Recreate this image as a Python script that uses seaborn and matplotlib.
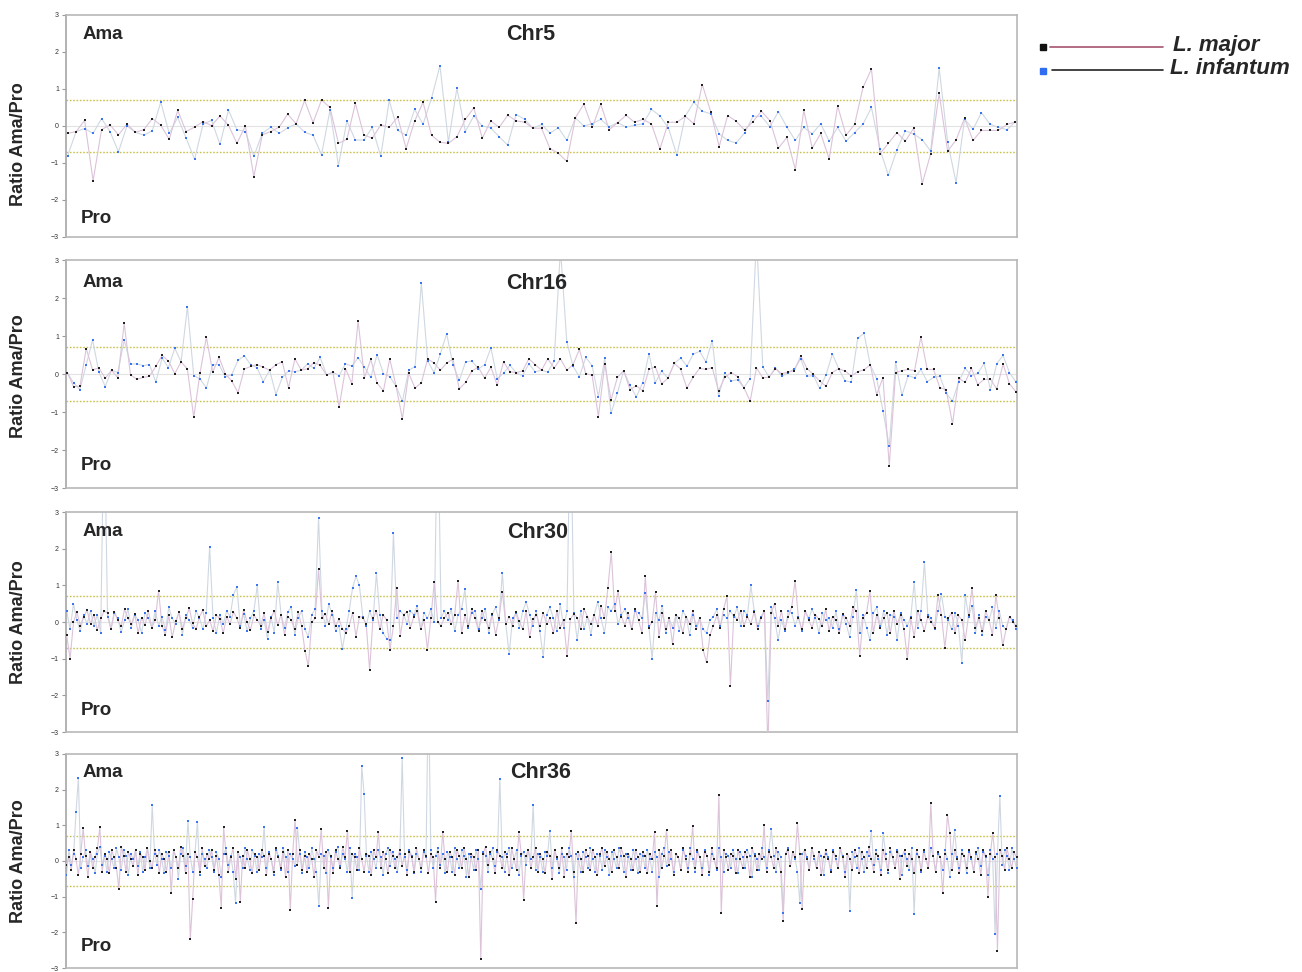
import numpy as np
import pandas as pd
import seaborn as sns
import matplotlib.pyplot as plt
from matplotlib.lines import Line2D

# ratio Ama/Pro per probe (values > 3 run off the top)
chr5_major = [-.2, -.15, .15, -1.48, -.1, .03, -.24, .05, -.17, -.1, .2, .02, -.36, .42, -.15, -.03, .12, .01, .27, .02,
              -.47, 0, -1.37, -.24, -.15, -.03, .32, .06, .69, .09, .7, .5, -.47, -.36, .61, -.24, -.33, .03, -.04, .24,
              -.61, .13, .64, -.25, -.44, -.47, -.29, .18, .49, -.33, .14, -.04, .29, .14, .1, -.06, -.06, -.61, -.74, -.96,
              .22, .59, -.04, .59, -.1, .09, .29, .1, .18, .05, -.62, .1, .1, .26, .06, 1.12, .39, -.56, .28, .13,
              -.11, .12, .4, .14, -.6, -.31, -1.18, .42, -.6, -.2, -.89, .54, -.25, .04, 1.04, 1.54, -.75, -.47, -.18, -.41,
              -.06, -1.56, -.75, .88, -.68, -.38, .21, -.39, -.12, -.12, -.12, .04, .11]
chr5_infantum = [-.8, -.15, -.07, -.2, .2, -.15, -.7, 0, -.17, -.25, -.13, .65, -.2, .23, -.33, -.9, .05, .15, -.5, .43,
                 -.1, -.15, -.82, -.2, -.03, -.2, -.05, .06, -.17, -.25, -.78, .43, -1.07, .13, -.38, -.38, -.04, -.82, .69, -.12,
                 -.25, .45, .05, .75, 1.63, -.44, 1.02, -.15, .27, 0, -.05, -.29, -.52, .31, .18, -.06, .04, -.19, -.05, -.39,
                 .22, 0, .06, .18, -.02, .09, -.03, .02, .06, .45, .27, -.05, -.79, .27, .64, .4, .33, -.21, -.39, -.46,
                 -.19, .26, .26, -.02, .39, -.03, -.39, -.04, -.21, .06, -.41, -.04, -.41, -.18, .05, .5, -.63, -1.33, -.65, -.13,
                 -.22, -.37, -.68, 1.56, -.43, -1.53, .19, -.09, .36, .05, -.04, -.1, .11]

chr16_major = [.04, -.33, -.32, .67, .11, .16, -.11, .1, -.1, 1.33, -.02, -.14, -.09, -.06, .2, .49, .34, .01, .32, .13,
               -1.14, .03, .97, .05, .44, 0, -.18, -.49, .13, .2, .25, .18, .1, .25, .32, -.36, .4, .1, .14, .3,
               .23, -.03, .05, -.87, .14, -.25, 1.39, -.1, .39, -.24, -.44, .4, -.32, -1.18, .02, -.37, -.23, .4, .29, .1,
               .29, .39, -.39, -.22, .08, .18, -.11, .18, -.29, .32, .06, .04, .08, .4, .25,
               .1, .4, .16, .4, .1, .25, .65, .01, -.03, -1.12, .26, -.68, -.09, .09, -.41, -.31, -.44, .12, .19, -.26,
               -.11, .28, .13, -.37, -.08, .15, .12, .17, -.44, -.09, .04, -.07, -.36, -.71, .16, -.1, -.08, .14, .01, .05,
               .09, .48, .14, -.01, -.19, -.32, .04, .14, .08, -.05, .06, .11, .24, -.54, -.1, -2.41, .04, .09, .12, .09,
               .98, .12, .12, -.36, -.41, -1.31, -.11, -.22, .15, -.28, -.14, -.14, -.39, .26, -.25, -.46]
chr16_infantum = [.04, -.23, -.41, .25, .9, .05, -.33, .1, .04, .89, .26, .27, .22, .25, -.21, .42, .17, .68, .32, 1.77,
                  -.04, -.13, -.37, .25, .25, -.08, -.02, .36, .48, .25, .17, -.2, .1, -.54, -.09, .08, .06, .1, .27, .15,
                  .44, -.02, .05, -.04, .27, .21, .43, .18, -.09, .51, .01, -.07, -.32, -.72, .1, .19, 2.39, .34, .04, .53,
                  1.06, .25, -.17, .32, .34, .14, .24, .69, -.12, .02, .23, .03, -.04, .27, .06,
                  .1, .05, .35, 3.3, .85, .2, -.07, .44, .22, -.6, .42, -1.03, -.5, .09, -.3, -.6, -.23, .54, -.23, .08,
                  -.11, .28, .42, .21, .52, .6, .32, .88, -.58, .02, -.18, -.15, -.36, -.12, 3.6, .19, -.08, .17, -.06, .04,
                  .14, .4, -.06, -.04, -.38, -.02, .53, .14, -.18, -.21, .94, 1.07, .24, -.12, -.96, -1.9, .32, -.56, -.04, -.1,
                  .12, -.2, -.09, -.06, -.51, -.71, -.2, .15, -.04, .02, .28, -.41, .27, .49, .04, -.2]

chr30_major = [-.36, -1.0, .0, .28, -.1, .15, .32, -.05, .2, -.22, .1, .3, .25, -.2, .28, .05, -.12, .35, .1, -.05,
               .22, -.3, .12, -.08, .3, -.15, .05, .85, -.1, -.35, .18, -.42, .02, .26, -.18, .1, .38, -.04, -.2, .14,
               .32, -.12, .05, -.25, .2, .08, -.3, .15, -.05, .28, .1, -.15, .34, .0, -.22, .18, .06, -.1, .24, -.28,
               .12, .3, -.08, .2, -.35, .15, .05, -.2, .28, -.1, -.78, -1.21, .0, .1, 1.45, .12, .22, -.05, .3, -.12,
               .08, -.18, -.3, -.1, .25, -.4, .15, .12, -.05, -1.31, .1, .3, -.2, .2, .05, -.75, -.1, .94, -.38, .2,
               .28, -.15, .15, .3, -.2, .05, -.75, .1, 1.1, .0, -.1, .12, .25, -.05, .2, 1.13, -.3, .18, -.12, .35,
               .1, -.25, .3, .05, -.15, .22, -.35, .1, .82, -.05, .15, -.1, .28, .02, -.2, .3, -.42, .08, .2, -.12,
               .25, -.05, .1, -.3, .3, -.15, .05, -.93, .08, .22, .12, -.2, .35, .15, -.05, .2, -.1, .45, .1, .92,
               1.92, .3, .85, .15, -.1, .25, -.2, .35, .05, -.3, 1.25, -.15, .0, .81, -.4, .25, -.2, .1, -.6, .2,
               .1, -.3, .15, -.05, .3, -.2, .12, -.77, -1.1, -.35, -.1, .18, -.15, .35, .71, -1.74, .2, .05, .3, -.1,
               .15, -.05, .28, -.2, .1, .3, -3.5, .25, .5, -.1, .3, -.2, .15, .4, 1.12, .1, -.2, .3, .05, -.15,
               .2, .08, -.1, .35, -.25, .15, .05, -.3, .22, .12, -.1, .4, .3, -.92, .12, .25, .85, -.3, .2, -.15,
               .1, .25, -.3, .3, -.05, .2, -.2, -1.02, .1, -.4, .3, .05, -.25, .15, .0, -.15, .74, .2, -.7, .1,
               .25, -.3, .18, .05, -.5, .2, .93, -.15, .1, -.25, .3, .05, -.35, .73, .1, -.64, -.2, .15, .0, -.1]
chr30_infantum = [.3, -.2, .5, .05, -.25, .18, -.05, .3, -.1, .2, -.3, 6.0, .15, -.2, .25, .1, -.28, .05, .35, -.15,
                  .2, .05, -.3, .25, .1, -.15, .3, -.1, .15, -.22, .4, .1, -.05, .28, -.35, .2, .05, -.15, .3, .12,
                  -.2, .25, 2.06, .1, -.3, .2, -.05, .3, .15, .75, .96, -.1, .22, -.25, .1, .3, 1.0, -.2, .05, -.45,
                  .15, -.3, 1.1, .2, -.15, .28, .4, -.35, .1, .3, -.2, -.4, .2, .35, 2.85, .3, -.1, .5, .2, -.25,
                  -.1, -.73, -.2, .3, .94, 1.25, 1.0, .15, -.1, .3, .05, 1.33, .2, -.3, -.45, -.5, 2.43, .1, .3, .2,
                  -.05, .3, .2, .45, -.2, .25, .1, .35, .0, 6.0, .12, .3, .05, .35, -.25, .2, .35, .9, -.15, .25,
                  .3, -.2, .1, .35, -.3, .2, .4, .05, 1.35, -.05, -.88, .1, .25, -.15, .3, .55, .2, -.1, .3, -.25,
                  -.95, .2, .4, .1, -.25, .5, -.15, .3, 6.0, .25, -.5, .3, -.2, .15, -.35, .2, .55, .1, -.3, .4,
                  .3, .5, -.05, .2, .35, .1, -.2, .3, .25, .1, .8, -.1, -1.0, .25, .05, .45, -.3, .1, -.15, .2,
                  -.25, .3, .15, -.35, .2, -.1, .1, -.2, -.3, .05, .15, .35, -.1, .2, .1, .3, .15, .4, -.1, .3,
                  .2, 1.0, .3, -.1, .15, .3, -2.15, .4, .1, -.5, .05, -.25, .3, .25, -.1, .15, -.25, .3, .1, .35,
                  .12, -.3, .25, .05, .1, -.15, .3, -.2, .2, -.05, -.4, .15, .87, -.3, .2, -.15, -.5, .25, .4, -.1,
                  .3, -.35, .2, .15, -.5, .25, .05, -.1, .15, 1.09, -.15, .3, 1.63, .2, .1, -.2, .3, .76, .15, .05,
                  -.2, .25, -.1, -1.12, .73, .15, .45, -.3, .2, -.35, .15, .05, .4, -.15, .3, -.1, -.2, .15, .05, -.2]

chr36_major = [-.1, .1, -.25, .3, .05, -.4, .2, .92, .15, -.45, .25, -.2, .1, .35, .95, -.3, .2, .05, -.35, .3,
               .1, -.2, -.78, .4, .15, -.3, .25, .05, -.15, .3, -.4, .2, .1, -.25, .35, .0, -.2, .3, .15, -.35,
               .2, .05, -.3, .25, -.9, .3, .1, -.2, .4, .15, -.35, .2, -2.19, -1.07, .25, .1, -.3, .35, -.15, .2,
               .05, .3, -.25, .15, -.4, -1.32, .94, .2, -.3, .1, .35, -.5, .25, -1.15, .15, -.2, .3, .05, -.35, .2,
               .1, -.25, .3, .15, -.4, .2, .05, -.3, .35, .1, -.2, .25, -.45, .3, -1.38, .2, 1.15, -.1, .3, -.25,
               .15, -.3, .2, .05, -.45, .3, .1, .9, -.2, .25, -1.31, .15, -.35, .3, .05, -.2, .4, .1, .85, -.3,
               .2, .1, -.25, .35, .05, -.3, .2, .15, -.4, .3, .1, .82, -.2, .25, .05, -.35, .3, .15, -.2, .1,
               .3, -.15, .2, -.4, .25, .1, -.3, .35, .05, -.2, .3, .15, -.35, .2, .1, -1.14, .25, -.2, .8, .05,
               -.3, .25, .1, -.4, .3, .15, -.2, .35, .05, -.45, .2, .1, -.25, .3, -2.74, .2, .4, -.1, .25, .05,
               -.35, .3, .15, -.2, .25, .1, -.4, .35, .05, -.25, .8, .2, -1.1, .15, .3, -.2, .1, .35, -.3, .2,
               .05, -.35, .25, .15, -.5, .3, .1, -.2, .35, -.45, .2, .1, .85, -.3, -1.74, .25, .05, -.3, .3, .15,
               -.25, .3, .1, -.4, .2, .35, -.15, .25, .05, -.3, .3, .1, -.2, .35, .15, -.45, .2, .05, -.25, .3,
               .1, -.3, .25, .15, -.35, .2, .05, .8, -1.26, .3, -.2, .15, .87, -.1, .3, -.4, .2, .1, -.25, .35,
               .05, -.3, .2, .98, -.2, .3, .1, -.4, .25, .15, -.3, .35, .05, -.2, 1.84, -1.45, .3, .1, -.25, .2,
               .15, -.35, .3, .05, -.2, .25, .1, -.45, .35, .15, -.25, .2, .05, 1.02, -.3, .25, .1, -.2, .35, .05,
               -.3, -1.67, .2, .3, -.15, .25, .1, 1.05, .2, -1.34, .3, .05, -.25, .35, .15, -.2, .25, -.4, .1, .3,
               .05, -.3, .25, .15, -.2, .35, .1, -.45, .2, .05, -.25, .3, .15, -.35, .25, .1, -.2, .4, .05, -.3,
               .2, .15, -.4, .3, .05, -.25, .35, .1, -.2, .25, -.5, .15, .3, -.15, .2, .05, -.35, .3, .1, -.25,
               .3, .05, -.2, 1.63, .15, -.3, .25, .1, -.9, .2, 1.29, .79, -.25, .3, .05, -.35, .2, .15, -.2, .3,
               .1, -.3, .25, .05, -.4, .3, .15, -1.0, .2, .78, .1, -2.52, .3, .15, -.25, .35, .05, -.2, .25, .1]
chr36_infantum = [-.4, .3, -.1, .2, 1.36, 2.33, -.2, .1, .3, -.15, .25, .05, -.35, .2, .4, -.1, .15, -.3, .25, .05,
                  -.2, .35, .1, -.25, .3, .15, -.4, .2, .05, .3, -.15, .25, -.3, .1, .35, -.2, 1.56, .2, -.1, .3,
                  .05, -.35, .25, .15, -.2, .3, .1, -.5, .2, .35, -.15, 1.12, .1, -.3, .25, 1.1, -.4, .2, .05, -.2,
                  .3, .1, -.3, .25, .05, -.45, .2, .35, -.1, .15, -.3, -1.17, .25, .1, -.2, .35, .05, -.25, .3, .15,
                  -.3, .2, .1, .95, -.2, .25, .05, -.4, .3, .15, -.25, .35, .1, -.3, .2, .05, -.15, .93, .2, -.35,
                  .25, .1, -.2, .35, .05, -.3, -1.26, .2, .15, -.35, .3, .1, -.2, .25, .4, -.15, .2, .05, -.3, .35,
                  -1.03, .2, .1, -.25, 2.66, 1.87, .15, -.3, .25, .05, -.2, .3, .1, -.4, .2, .35, -.15, .25, .05, -.3,
                  .2, 2.88, .1, -.25, .3, .15, -.35, .2, .05, -.3, .25, .1, 5.0, .3, -.2, .15, .35, -.1, .2, -.35,
                  .25, .1, -.3, .35, .05, -.2, .3, .15, -.45, .2, .1, -.25, .3, .05, -.78, .25, .15, -.3, .2, .35,
                  -.15, .25, 2.3, .1, -.3, .2, .35, -.2, .05, .3, -.4, .15, .25, -.1, .3, .05, 1.58, -.25, .2, .1,
                  -.3, .25, .15, .85, -.2, .3, .05, -.35, .2, .1, -.25, .35, .15, -.45, .2, .05, -.3, .25, .1, -.2,
                  .35, .05, -.3, .2, .15, -.25, .3, .1, -.4, .25, .05, -.2, .35, .15, -.3, .2, .1, -.25, .3, .05,
                  -.35, .2, .15, -.2, .3, .05, -.3, .25, .1, -.45, .2, .35, -.15, .25, .05, -.3, .2, .1, -.25, .3,
                  .15, -.2, .35, .05, -.3, .25, .1, -.2, .3, .15, -.4, .2, .05, -.25, .35, .1, -.3, .2, .15, -.2,
                  .3, .05, -.35, .25, .1, -.2, .3, .15, -.45, .2, .05, -.25, .35, .1, -.2, .3, .9, .15, -.3, .25,
                  .1, -1.46, .2, .35, -.15, .25, .05, -.3, -1.17, .2, .3, .1, -.25, .35, .05, -.2, .25, .15, -.4, .2,
                  .1, -.25, .3, .05, -.2, .35, .15, -.3, .2, -1.4, .25, .1, -.2, .35, .05, -.3, .25, .15, .85, -.1,
                  .3, .05, -.25, .77, .2, -.35, .25, .1, -.2, .3, .15, -.4, .2, .05, -.25, .35, -1.48, .2, .1, -.3,
                  .25, .05, -.2, .35, .15, -.3, .2, .1, -.25, .3, .05, -.45, .2, .86, .1, -.2, .3, .15, -.35, .25,
                  .05, -.3, .2, .35, -.15, .25, .1, -.4, .3, .05, -2.05, .2, 1.83, -.1, .3, .15, -.25, .35, .05, -.2]

chromosomes = ["Chr5", "Chr16", "Chr30", "Chr36"]
major = [chr5_major, chr16_major, chr30_major, chr36_major]
infantum = [chr5_infantum, chr16_infantum, chr30_infantum, chr36_infantum]
species = ["L. major", "L. infantum"]
cutoff = 0.7

sns.set_style("white")
plt.rcParams['font.family'] = ['Liberation Sans', 'DejaVu Sans']

fig = plt.figure(figsize=(13.02, 9.72), dpi=100)

# panel boxes in figure fractions
boxes = [[0.0507, 0.7562, 0.7304, 0.2284],
         [0.0507, 0.4979, 0.7304, 0.2346],
         [0.0507, 0.2469, 0.7304, 0.2263],
         [0.0507, 0.0040, 0.7304, 0.2205]]
ylab_y = [0.42, 0.49, 0.5, 0.5]
ama_y = [0.914, 0.90, 0.91, 0.915]
pro_y = [0.081, 0.10, 0.10, 0.10]
title_x = [0.489, 0.495, 0.496, 0.499]

maj_line, maj_dot = "#dcc3da", "#222222"
inf_line, inf_dot = "#cfd8e2", "#3a74f0"

for k, name in enumerate(chromosomes):
    ax = fig.add_axes(boxes[k])
    m = major[k]
    f = infantum[k]
    dm = pd.DataFrame({"probe": np.arange(len(m)), "ratio": m})
    df = pd.DataFrame({"probe": np.arange(len(f)), "ratio": f})
    n = max(len(m), len(f))

    ax.axhline(0, color="#e2e2e2", lw=0.8, zorder=1)
    for c in (cutoff, -cutoff):
        ax.axhline(c, color="#c9c24e", lw=1.0, ls=(0, (1.2, 1.2)), zorder=1)

    sns.lineplot(data=df, x="probe", y="ratio", ax=ax, color=inf_line, lw=0.8, zorder=2)
    sns.lineplot(data=dm, x="probe", y="ratio", ax=ax, color=maj_line, lw=0.8, zorder=3)
    sns.scatterplot(data=df, x="probe", y="ratio", ax=ax, color=inf_dot, marker="s",
                    s=4, linewidth=0, zorder=4)
    sns.scatterplot(data=dm, x="probe", y="ratio", ax=ax, color=maj_dot, marker="s",
                    s=4, linewidth=0, zorder=5)

    ax.set_xlim(-0.2, n - 0.8)
    ax.set_ylim(-3, 3)
    ax.set_xticks([])
    ax.set_yticks([-3, -2, -1, 0, 1, 2, 3])
    ax.tick_params(axis="y", labelsize=5, length=3, width=0.8, color="#9a9a9a",
                   labelcolor="#333333", pad=2, left=True)
    ax.set_xlabel("")
    ax.set_ylabel("Ratio Ama/Pro", fontsize=13, fontweight="bold")
    ax.yaxis.set_label_coords(-0.041, ylab_y[k])
    for s in ax.spines.values():
        s.set_color("#b8b8b8")
        s.set_linewidth(1.2)
    ax.spines["left"].set_color("#a5a5a5")

    ax.text(0.017, ama_y[k], "Ama", transform=ax.transAxes, fontsize=13.5,
            fontweight="bold", ha="left", va="center")
    ax.text(0.016, pro_y[k], "Pro", transform=ax.transAxes, fontsize=13.5,
            fontweight="bold", ha="left", va="center")
    ax.text(title_x[k], ama_y[k] - 0.002, name, transform=ax.transAxes, fontsize=15.5,
            fontweight="bold", ha="center", va="center")

# legend to the right of the top panel
fig.add_artist(Line2D([0.8065, 0.8932], [0.9516, 0.9516], color="#a5546f", lw=1.2))
fig.add_artist(Line2D([0.801], [0.9516], marker="s", ms=5, color="#111111", lw=0))
fig.add_artist(Line2D([0.8080, 0.8932], [0.9280, 0.9280], color="#222222", lw=1.2))
fig.add_artist(Line2D([0.801], [0.9270], marker="s", ms=5, color="#2f6cf2", lw=0))
fig.text(0.901, 0.9535, species[0], fontsize=16, fontweight="bold", style="italic", va="center")
fig.text(0.8986, 0.9295, species[1], fontsize=16, fontweight="bold", style="italic", va="center")

fig.savefig("out.png", dpi=100)
